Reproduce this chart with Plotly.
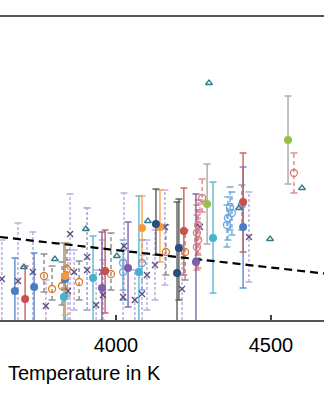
import plotly.graph_objects as go

# ---------------- data (temperature in K, value in arbitrary units) ----------------
# filled circles with solid error bars
blue_T = [3674, 3736, 3836, 4410]
blue_y = [2.9, 3.3, 4.1, 9.3]
blue_hi = [6.2, 6.7, 7.7, 15.3]
blue_lo = [-2.0, -2.0, -0.5, 3.2]

red_T = [3707, 3965, 4219, 4410]
red_y = [2.1, 4.9, 8.9, 11.8]
red_hi = [5.4, 9.0, 13.2, 16.7]
red_lo = [-2.0, 0.7, 4.5, 6.8]

cyan_T = [3832, 3926, 4074, 4313]
cyan_y = [2.3, 4.2, 4.8, 8.2]
cyan_hi = [7.7, 8.4, 12.4, 13.8]
cyan_lo = [-2.0, -2.0, -2.0, 2.7]

purple_T = [3955, 4039, 4258]
purple_y = [3.2, 5.2, 5.8]
purple_hi = [8.8, 9.8, 12.6]
purple_lo = [-2.0, 1.3, -2.0]

orange_T = [3836, 4084, 4142]
orange_y = [4.4, 9.2, 9.3]
orange_hi = [7.7, 12.4, 13.0]
orange_lo = [0.5, 5.8, 5.8]

navy_T = [4129, 4197, 4203]
navy_y = [9.6, 4.7, 7.2]
navy_hi = [13.1, 11.8, 12.1]
navy_lo = [6.5, -2.5, 2.0]

green_T = [4294, 4555]
green_y = [11.6, 18.0]
green_hi = [15.6, 22.4]
green_lo = [7.6, 13.6]

# open circles with dashed error bars
oorange_T = [3768, 3794, 3842, 3826, 3881, 3984, 4161, 4223]
oorange_y = [4.4, 3.1, 5.1, 3.4, 3.8, 4.6, 6.8, 6.8]
oorange_hi = [6.6, 5.4, 7.0, 5.8, 5.9, 8.7, 9.5, 9.0]
oorange_lo = [2.8, 2.0, 2.4, 1.5, 2.0, 3.0, 4.5, 4.0]

pink_T = [4278, 4261, 4265, 4261, 4265, 4574]
pink_y = [12.2, 8.7, 8.0, 7.3, 9.5, 14.7]
pink_hi = [14.1, 11.5, 11.0, 10.5, 12.0, 16.7]
pink_lo = [10.8, 5.8, 5.2, 5.0, 6.5, 12.7]

lblue_T = [4023, 4023, 4084, 4368, 4374, 4361, 4358, 4406]
lblue_y = [5.7, 4.8, 5.7, 11.3, 10.7, 10.2, 9.5, 11.5]
lblue_hi = [8.0, 7.0, 8.0, 13.3, 12.8, 12.3, 11.5, 13.5]
lblue_lo = [3.0, 2.0, 3.0, 9.0, 8.5, 8.0, 7.3, 9.0]

# crosses with dashed error bars
cross_T = [3632, 3684, 3732, 3774, 3852, 3845, 3865, 3907, 3907, 3936, 3955,
           3958, 4026, 4023, 4061, 4084, 4100, 4126, 4158, 4213, 4271, 4429]
cross_y = [4.1, 3.9, 4.8, 1.4, 8.6, 2.9, 4.8, 6.3, 5.0, 1.5, 4.8,
           2.5, 7.4, 2.3, 2.0, 2.6, 4.5, 5.5, 9.3, 3.1, 9.3, 8.3]
cross_hi = [8.0, 9.7, 8.8, 4.0, 12.6, 6.0, 7.0, 11.2, 11.2, 5.0, 8.0,
            6.0, 12.7, 6.0, 5.0, 6.5, 8.0, 9.0, 13.0, 7.5, 12.0, 12.8]
cross_lo = [-2.0, -2.0, -2.0, -1.0, -1.0, 0.0, 1.0, 1.0, 1.0, -2.0, 0.0,
            -1.0, 2.0, -1.0, -2.0, -1.0, 1.0, 2.0, 3.5, -1.0, 6.0, 3.8]

# open triangles without error bars
tri_T = [3703, 3803, 3903, 4003, 4103, 4397, 4497, 4600, 4300]
tri_y = [5.3, 6.1, 9.1, 6.4, 9.9, 11.2, 8.1, 13.2, 23.7]

# dashed trend line
fit_T = [3626, 4671]
fit_y = [8.3, 4.65]

x_ticks = [4000, 4500]
x_range = [3626, 4671]
y_range = [0, 30.3]

FONT = "Liberation Sans, Arial, sans-serif"

fig = go.Figure()


def add_bars(T, lo, hi, color, dash, width=1.4):
    xs, ys = [], []
    for t, l, h in zip(T, lo, hi):
        xs += [t, t, None]
        ys += [l, h, None]
    fig.add_trace(go.Scatter(x=xs, y=ys, mode="lines",
                             line=dict(color=color, width=width, dash=dash),
                             hoverinfo="skip", showlegend=False))
    fig.add_trace(go.Scatter(x=list(T) + list(T), y=list(lo) + list(hi), mode="markers",
                             marker=dict(symbol="line-ew", size=5,
                                         line=dict(color=color, width=width)),
                             hoverinfo="skip", showlegend=False, cliponaxis=True))


def add_points(T, y, symbol, color, fill, size=7):
    if fill:
        marker = dict(symbol=symbol, size=size, color=color, line=dict(width=0))
    else:
        marker = dict(symbol=symbol, size=size, color="rgba(0,0,0,0)",
                      line=dict(color=color, width=1.3))
    fig.add_trace(go.Scatter(x=T, y=y, mode="markers", marker=marker,
                             showlegend=False, cliponaxis=True))


# dashed bars first
add_bars(cross_T, cross_lo, cross_hi, "#b9a9dc", "3px,2px")
add_bars(oorange_T, oorange_lo, oorange_hi, "#8a8a8a", "4px,3px")
add_bars(pink_T, pink_lo, pink_hi, "#e28583", "4px,3px")
add_bars(lblue_T, lblue_lo, lblue_hi, "#6fa9d6", "4px,3px")
# solid bars
add_bars(blue_T, blue_lo, blue_hi, "#5a8bd0", "solid")
add_bars(red_T, red_lo, red_hi, "#cf5b5a", "solid")
add_bars(cyan_T, cyan_lo, cyan_hi, "#5ab8d2", "solid")
add_bars(purple_T, purple_lo, purple_hi, "#7f62aa", "solid")
add_bars(orange_T, orange_lo, orange_hi, "#f7a454", "solid")
add_bars(navy_T, navy_lo, navy_hi, "#5a5a5a", "solid")
add_bars(green_T, green_lo, green_hi, "#a8a8a8", "solid")

# dashed trend line
fig.add_trace(go.Scatter(x=fit_T, y=fit_y, mode="lines",
                         line=dict(color="black", width=2.2, dash="8px,5px"),
                         showlegend=False))

# markers
add_points(cross_T, cross_y, "x-thin", "#5b4b80", False, 6)
add_points(oorange_T, oorange_y, "circle", "#e07b25", False, 7)
add_points(pink_T, pink_y, "circle", "#e07a78", False, 7)
add_points(lblue_T, lblue_y, "circle", "#6fa5dc", False, 7)
add_points(tri_T, tri_y, "triangle-up", "#2e7c8c", False, 6)
add_points(blue_T, blue_y, "circle", "#4a7cc4", True, 8)
add_points(red_T, red_y, "circle", "#c9504f", True, 8)
add_points(cyan_T, cyan_y, "circle", "#45b3cf", True, 8)
add_points(purple_T, purple_y, "circle", "#7d5fa8", True, 8)
add_points(orange_T, orange_y, "circle", "#f59a3e", True, 8)
add_points(navy_T, navy_y, "circle", "#2b4c7e", True, 8)
add_points(green_T, green_y, "circle", "#97bf4a", True, 8)

fig.update_layout(
    width=324, height=400,
    margin=dict(l=0, r=0, t=17, b=80),
    paper_bgcolor="white", plot_bgcolor="white",
    xaxis=dict(range=x_range, tickvals=x_ticks, ticktext=[str(v) for v in x_ticks],
               ticks="inside", ticklen=5, tickwidth=1.5, tickcolor="#444",
               ticklabelstandoff=6,
               showline=True, mirror=True, linecolor="#555", linewidth=1.8,
               showgrid=False, zeroline=False,
               tickfont=dict(family=FONT, size=20, color="black")),
    yaxis=dict(range=y_range, visible=False, showgrid=False, zeroline=False),
    annotations=[dict(text="Temperature in K", xref="paper", yref="paper",
                      x=0.02, y=-0.175, xanchor="left", yanchor="middle",
                      showarrow=False, font=dict(family=FONT, size=20, color="black"))],
)

fig.write_html("out.html")
